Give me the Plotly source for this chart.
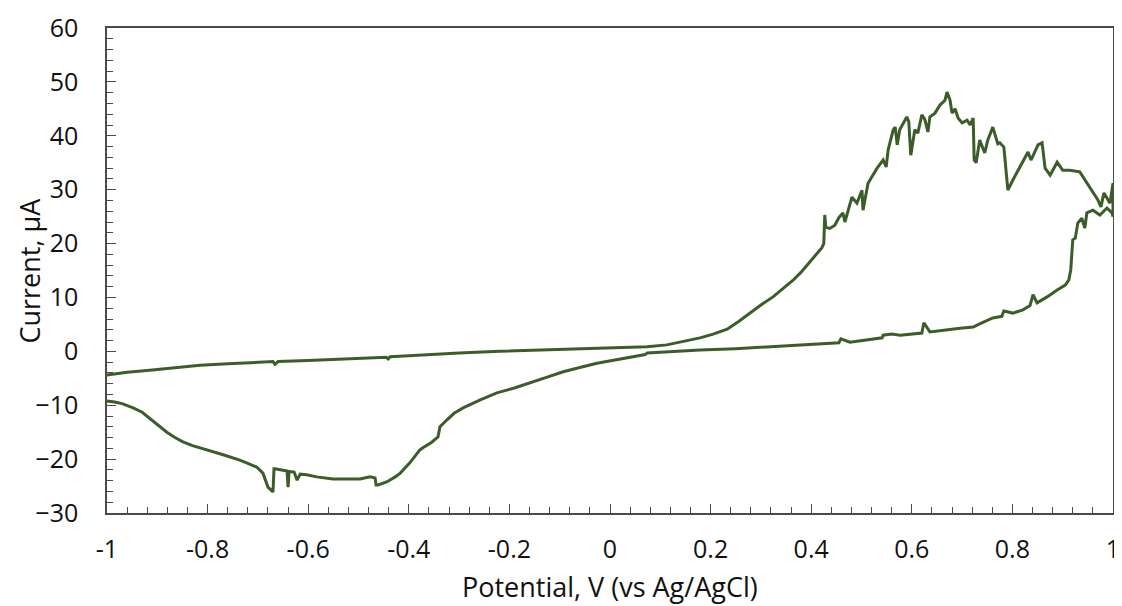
import plotly.graph_objects as go

# Forward scan (-1 V -> +1 V)
fwd_x = [-1.0, -0.96, -0.915, -0.865, -0.815, -0.76, -0.70, -0.670, -0.666, -0.66, -0.60, -0.551,
         -0.50, -0.445, -0.441, -0.437, -0.40, -0.352, -0.30, -0.219, -0.15, -0.085, 0.014,
         0.074, 0.113, 0.139, 0.16, 0.179, 0.205, 0.233, 0.255, 0.278, 0.30, 0.324, 0.345,
         0.364, 0.38, 0.398, 0.41, 0.421, 0.425, 0.427, 0.429, 0.437, 0.447, 0.455, 0.463, 0.467,
         0.481, 0.491, 0.501, 0.503, 0.513, 0.531, 0.543, 0.549, 0.553, 0.563, 0.567,
         0.571, 0.576, 0.590, 0.594, 0.598, 0.606, 0.612, 0.620, 0.626, 0.632, 0.636,
         0.646, 0.656, 0.666, 0.670, 0.676, 0.680, 0.686, 0.692, 0.700, 0.710, 0.716,
         0.722, 0.724, 0.728, 0.735, 0.745, 0.751, 0.761, 0.771, 0.775, 0.783, 0.791,
         0.801, 0.815, 0.831, 0.837, 0.851, 0.859, 0.865, 0.875, 0.889, 0.900, 0.914,
         0.934, 0.944, 0.958, 0.970, 0.976, 0.982, 0.994, 1.0]
fwd_y = [-4.4, -3.9, -3.5, -3.0, -2.6, -2.3, -2.1, -1.9, -2.4, -1.9, -1.7, -1.5,
         -1.3, -1.1, -1.4, -1.0, -0.8, -0.5, -0.3, 0.0, 0.2, 0.4, 0.6,
         0.85, 1.2, 1.7, 2.0, 2.5, 3.2, 4.1, 5.5, 7.1, 8.6, 10.1, 11.7,
         13.2, 14.7, 16.6, 17.9, 19.2, 20.0, 25.3, 23.0, 22.8, 23.4, 24.8, 25.7, 24.0,
         28.6, 27.5, 29.9, 26.2, 31.2, 34.0, 35.5, 34.2, 37.4, 41.1, 41.6,
         38.3, 41.1, 43.5, 42.6, 36.4, 41.1, 40.5, 43.9, 43.0, 40.7, 43.5,
         44.2, 45.7, 46.6, 48.1, 46.6, 44.2, 45.0, 43.3, 42.4, 42.9, 42.0,
         43.3, 35.5, 35.0, 39.2, 36.8, 39.2, 41.6, 38.5, 38.7, 37.9, 29.9,
         31.8, 34.2, 37.0, 35.5, 38.3, 38.7, 34.0, 32.7, 35.1, 33.6, 33.6,
         33.3, 31.8, 29.9, 28.1, 26.8, 29.4, 27.5, 31.2]

# Reverse scan (+1 V -> -1 V)
rev_x = [1.0, 0.998, 0.988, 0.974, 0.960, 0.948, 0.944, 0.938, 0.930, 0.925, 0.920,
         0.916, 0.912, 0.905, 0.889, 0.869, 0.849, 0.841, 0.835, 0.821, 0.801, 0.783,
         0.779, 0.761, 0.737, 0.733, 0.722, 0.696, 0.662, 0.636, 0.624, 0.620, 0.577,
         0.560, 0.543, 0.541, 0.477, 0.459, 0.455, 0.38, 0.312, 0.25, 0.179, 0.139, 0.074, 0.070,
         0.02, -0.026, -0.06, -0.093, -0.125, -0.159, -0.19, -0.225, -0.258, -0.292, -0.31, -0.324,
         -0.338, -0.342, -0.355, -0.372,
         -0.378, -0.398, -0.417, -0.427, -0.443, -0.461, -0.465, -0.467, -0.477, -0.497,
         -0.551, -0.583, -0.603, -0.616, -0.622, -0.628, -0.638, -0.640, -0.642, -0.666,
         -0.668, -0.670, -0.680, -0.690, -0.702, -0.72, -0.736, -0.769, -0.79, -0.815, -0.83,
         -0.849, -0.865, -0.881, -0.898, -0.915, -0.93, -0.948, -0.97, -0.985, -1.0]
rev_y = [25.0, 25.7, 26.6, 25.3, 26.2, 25.7, 22.9, 24.7, 23.8, 21.0, 20.7,
         15.1, 13.2, 12.3, 11.4, 10.1, 9.0, 10.5, 8.5, 7.7, 7.1, 7.5,
         6.5, 6.2, 5.2, 5.0, 4.5, 4.3, 3.9, 3.6, 5.3, 3.4, 3.0,
         3.2, 3.0, 2.5, 1.7, 2.3, 1.6, 1.2, 0.8, 0.5, 0.25, 0.0, -0.3, -0.6,
         -1.4, -2.2, -3.0, -3.8, -4.8, -5.9, -6.8, -7.7, -9.0, -10.5, -11.5, -12.7,
         -14.0, -15.9, -16.9, -17.9,
         -18.3, -20.7, -22.6, -23.3, -24.2, -24.8, -24.8, -23.5, -23.3, -23.7,
         -23.7, -23.3, -22.9, -22.8, -23.9, -22.4, -22.3, -25.2, -22.2, -21.8,
         -21.8, -26.1, -25.2, -22.6, -21.5, -20.8, -20.2, -19.2, -18.6, -17.9, -17.5,
         -16.8, -16.0, -15.0, -13.7, -12.4, -11.3, -10.5, -9.7, -9.4, -9.2]

x_ticks = [-1, -0.8, -0.6, -0.4, -0.2, 0, 0.2, 0.4, 0.6, 0.8, 1]
x_labels = ["-1", "-0.8", "-0.6", "-0.4", "-0.2", "0", "0.2", "0.4", "0.6", "0.8", "1"]
y_ticks = [-30, -20, -10, 0, 10, 20, 30, 40, 50, 60]
x_title = "Potential, V (vs Ag/AgCl)"
y_title = "Current, µA"

LINE = "#3b5e28"
AX = "#4a4a4a"
FONT = "Open Sans"

fig = go.Figure()
fig.add_trace(go.Scatter(
    x=fwd_x + rev_x, y=fwd_y + rev_y, mode="lines",
    line=dict(color=LINE, width=3), showlegend=False, hoverinfo="skip"))

# the page adds an 8px body margin, so the figure is sized/offset to compensate
fig.update_layout(
    width=1114, height=598,
    margin=dict(l=99, r=9, t=20, b=93, autoexpand=False),
    paper_bgcolor="white", plot_bgcolor="white",
    font=dict(family=FONT, size=25, color="#111111"),
    annotations=[
        dict(text=x_title, xref="paper", yref="paper", x=0.5, y=-0.152,
             xanchor="center", yanchor="middle", showarrow=False, font=dict(size=27)),
        dict(text=y_title, xref="paper", yref="paper", x=-0.0775, y=0.5,
             xanchor="center", yanchor="middle", showarrow=False, textangle=-90,
             font=dict(size=27)),
    ],
)
fig.update_xaxes(
    range=[-1, 1], tickvals=x_ticks, ticktext=x_labels, automargin=False,
    showgrid=False, zeroline=False,
    showline=True, linecolor=AX, linewidth=1.5, mirror=True,
    ticks="inside", ticklen=9, tickwidth=1.3, tickcolor=AX,
    ticklabelstandoff=13,
    minor=dict(dtick=0.04, tick0=-1, ticks="inside", ticklen=6, tickwidth=1.3, tickcolor=AX, showgrid=False),
)
fig.update_yaxes(
    range=[-30, 60], tickvals=y_ticks, automargin=False,
    showgrid=False, zeroline=False,
    showline=True, linecolor=AX, linewidth=1.5, mirror=True,
    ticks="inside", ticklen=9, tickwidth=1.3, tickcolor=AX,
    ticklabelstandoff=22,
    minor=dict(dtick=2, tick0=-30, ticks="inside", ticklen=6, tickwidth=1.3, tickcolor=AX, showgrid=False),
)

fig.write_html("out.html")
